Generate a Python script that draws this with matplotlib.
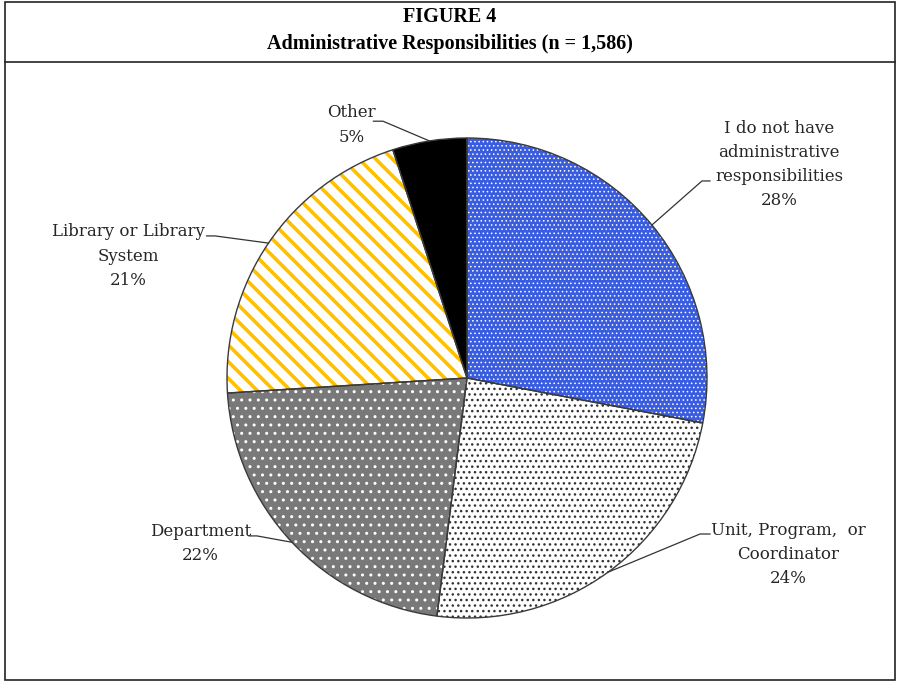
import numpy as np
import matplotlib.pyplot as plt
from matplotlib.lines import Line2D
from matplotlib.patches import Rectangle

# data
labels = ["I do not have\nadministrative\nresponsibilities",
          "Unit, Program,  or\nCoordinator",
          "Department",
          "Library or Library\nSystem",
          "Other"]
shares = [28, 24, 22, 21, 5]

face_colors = ["#3a5ddf", "white", "#797979", "white", "black"]
hatch_colors = ["white", "#333333", "white", "#ffc000", "black"]
hatches = ["....", "...", "..", "\\\\", ""]
hatch_widths = [0.6, 1.0, 1.0, 2.6, 0.5]

# label text centre, leader elbow and leader end (pie data units, radius = 1)
text_pos = [(1.30, 0.89), (1.34, -0.735), (-1.11, -0.69), (-1.41, 0.508), (-0.48, 1.054)]
elbow = [(0.979, 0.821), (0.971, -0.65), (-0.875, -0.658), (-1.05, 0.592), (-0.35, 1.07)]
bar_end = [1.0125, 1.0125, -0.908, -1.085, -0.39]

plt.rcParams["hatch.linewidth"] = 1.0

fig = plt.figure(figsize=(9, 6.82), dpi=100)

# frame and title box
fig.add_artist(Rectangle((5/900, 2/682), 890/900, 678/682, transform=fig.transFigure,
                         fill=False, lw=1.2, ec="#222222"))
fig.add_artist(Line2D([5/900, 895/900], [1-62/682, 1-62/682], transform=fig.transFigure,
                      lw=1.2, color="#222222"))
fig.text(0.5, 1-17/682, "FIGURE 4", ha="center", va="center",
         family="Liberation Serif", weight="bold", fontsize=14.5)
fig.text(0.5, 1-44/682, "Administrative Responsibilities (n = 1,586)", ha="center",
         va="center", family="Liberation Serif", weight="bold", fontsize=14.5)

# pie axes: centre (467, 378) px, radius 240 px
cx, cy, r = 467, 378, 240
ax = fig.add_axes([(cx-1.6*r)/900, (682-cy-1.6*r)/682, 3.2*r/900, 3.2*r/682])

base, _ = ax.pie(shares, startangle=90, counterclock=False, colors=face_colors,
                 wedgeprops=dict(lw=0))
over, _ = ax.pie(shares, startangle=90, counterclock=False,
                 wedgeprops=dict(fc="none", lw=0))
for w, h, hc, hw in zip(over, hatches, hatch_colors, hatch_widths):
    w.set_edgecolor(hc)
    w.set_hatch(h)
    if hasattr(w, "set_hatch_linewidth"):
        w.set_hatch_linewidth(hw)
edges, _ = ax.pie(shares, startangle=90, counterclock=False,
                  wedgeprops=dict(fc="none", ec="#3a3a3a", lw=1.0))

ax.set_aspect("auto")
ax.set_xlim(-1.6, 1.6)
ax.set_ylim(-1.6, 1.6)
ax.axis("off")

lab_font = dict(family="DejaVu Serif", fontsize=12, color="#262626")
for w, lab, s, tp, el, be in zip(edges, labels, shares, text_pos, elbow, bar_end):
    ang = np.deg2rad((w.theta1 + w.theta2) / 2)
    px, py = np.cos(ang), np.sin(ang)
    ax.plot([px, el[0], be], [py, el[1], el[1]], color="#333333", lw=0.9)
    ax.text(tp[0], tp[1], f"{lab}\n{s}%", ha="center", va="center",
            linespacing=1.55, **lab_font)

fig.savefig("out.png", dpi=100)
